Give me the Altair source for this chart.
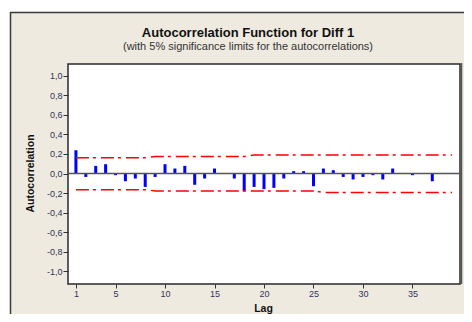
import altair as alt
import pandas as pd

# ---- data ----
lags = list(range(1, 40))
acf = [0.238, -0.035, 0.078, 0.095, -0.017, -0.079, -0.051, -0.137, -0.035, 0.095,
       0.051, 0.078, -0.115, -0.051, 0.051, -0.005, -0.051, -0.181, -0.137, -0.160,
       -0.147, -0.051, 0.024, 0.024, -0.130, 0.051, 0.034, -0.035, -0.061, -0.035,
       -0.017, -0.061, 0.051, 0.005, -0.017, -0.005, -0.079, 0.005, -0.005]
upper = [0.160, 0.160, 0.160, 0.160, 0.160, 0.160, 0.160, 0.160, 0.175, 0.175,
         0.175, 0.175, 0.175, 0.175, 0.175, 0.175, 0.175, 0.175, 0.190, 0.190,
         0.190, 0.190, 0.190, 0.190, 0.190, 0.190, 0.190, 0.190, 0.190, 0.190,
         0.190, 0.190, 0.190, 0.190, 0.190, 0.190, 0.190, 0.190, 0.190]
lower = [-0.165, -0.165, -0.165, -0.165, -0.165, -0.165, -0.165, -0.165, -0.178, -0.178,
         -0.178, -0.178, -0.178, -0.178, -0.178, -0.178, -0.178, -0.178, -0.178, -0.178,
         -0.178, -0.178, -0.178, -0.178, -0.178, -0.193, -0.193, -0.193, -0.193, -0.193,
         -0.193, -0.193, -0.193, -0.193, -0.193, -0.193, -0.193, -0.193, -0.193]
x_ticks = [1, 5, 10, 15, 20, 25, 30, 35]
y_ticks = [-1.0, -0.8, -0.6, -0.4, -0.2, 0.0, 0.2, 0.4, 0.6, 0.8, 1.0]
title_text = "Autocorrelation Function for Diff 1"
subtitle_text = "(with 5% significance limits for the autocorrelations)"

df = pd.DataFrame({"lag": lags, "acf": acf, "upper": upper, "lower": lower})
df["zero"] = 0.0
one = pd.DataFrame({"z": [0.0], "lag": [20.0]})

W, H = 392, 220
BEIGE = "#EEEAE0"
FONT = "Liberation Sans"

xscale = alt.Scale(domain=[0.2, 39.8], nice=False, zero=False)
yscale = alt.Scale(domain=[-1.13, 1.12], nice=False, zero=False)

xaxis = alt.Axis(values=x_ticks, title="Lag", grid=False, domain=False,
                 tickSize=4, tickColor="#333333", labelFontSize=9, labelFont=FONT,
                 labelColor="#33335a", labelPadding=1, labelFlush=False,
                 titleFont=FONT, titleFontSize=10.5, titleFontWeight="bold",
                 titleColor="#111111", titleX=195, titleY=24,
                 titleBaseline="middle", titleAlign="center", zindex=1)
yaxis = alt.Axis(values=y_ticks, title="Autocorrelation", grid=False, domain=False,
                 tickSize=5, tickColor="#333333", labelFontSize=9, labelFont=FONT,
                 labelColor="#33335a", labelPadding=1,
                 labelExpr="(datum.value < 0 ? '-' : '') + replace(format(abs(datum.value), '.1f'), '.', ',')",
                 titleFont=FONT, titleFontSize=10.5, titleFontWeight="bold",
                 titleColor="#111111", titleX=-38, titleY=109, titleAngle=270,
                 titleBaseline="middle", titleAlign="center", zindex=1)

X = alt.X("lag:Q", scale=xscale, axis=xaxis)

# beige chart panel (no stroke), with its left and top border drawn as rules
frame = alt.Chart(one).mark_rect(fill=BEIGE, strokeWidth=0).encode(
    x=alt.value(-58), y=alt.value(-52), x2=alt.value(W + 20), y2=alt.value(H + 40))
frame_left = alt.Chart(one).mark_rule(color="#3a3a3a", strokeWidth=1.5).encode(
    x=alt.value(-57.5), y=alt.value(-52), y2=alt.value(H + 40))
frame_top = alt.Chart(one).mark_rule(color="#3a3a3a", strokeWidth=1.5).encode(
    y=alt.value(-51.5), x=alt.value(-58), x2=alt.value(W + 20))

plotbg = alt.Chart(one).mark_rect(fill="white", stroke="#2a2a2a", strokeWidth=1.5).encode(
    x=alt.value(0), y=alt.value(0), x2=alt.value(W), y2=alt.value(H))
plot_shadow = alt.Chart(one).mark_rule(color="#555555", strokeWidth=1.5).encode(
    x=alt.value(W + 1.5), y=alt.value(-1), y2=alt.value(H))

title = alt.Chart(one).mark_text(text=title_text, font=FONT, fontSize=13, fontWeight="bold",
                                 color="#111111", align="center", baseline="middle").encode(
    x=alt.value(180), y=alt.value(-31))
subtitle = alt.Chart(one).mark_text(text=subtitle_text, font=FONT, fontSize=11,
                                    color="#333333", align="center", baseline="middle").encode(
    x=alt.value(180), y=alt.value(-17))

bars = alt.Chart(df).mark_rule(color="#0000FF", strokeWidth=3, strokeCap="butt").encode(
    x=X,
    y=alt.Y("acf:Q", scale=yscale, axis=yaxis),
    y2=alt.Y2("zero:Q"))

zero_line = alt.Chart(one).mark_rule(color="#555555", strokeWidth=1.5).encode(
    y=alt.Y("z:Q", scale=yscale, axis=yaxis), x=alt.value(0), x2=alt.value(W))

dash = [13, 4, 3, 5]
up_line = alt.Chart(df).mark_line(color="#FF0000", strokeDash=dash, strokeWidth=1.5).encode(
    x=X, y=alt.Y("upper:Q", scale=yscale, axis=yaxis))
lo_line = alt.Chart(df).mark_line(color="#FF0000", strokeDash=dash, strokeWidth=1.5).encode(
    x=X, y=alt.Y("lower:Q", scale=yscale, axis=yaxis))

chart = alt.layer(frame, frame_left, frame_top, plotbg, plot_shadow, title, subtitle,
                  bars, zero_line, up_line, lo_line).properties(
    width=W, height=H,
    autosize=alt.AutoSizeParams(type="none"),
    padding={"left": 60, "top": 56, "right": 4, "bottom": 30},
    background="white",
).configure_view(strokeWidth=0)

chart.save("out.html", embed_options={"renderer": "svg", "actions": False})
